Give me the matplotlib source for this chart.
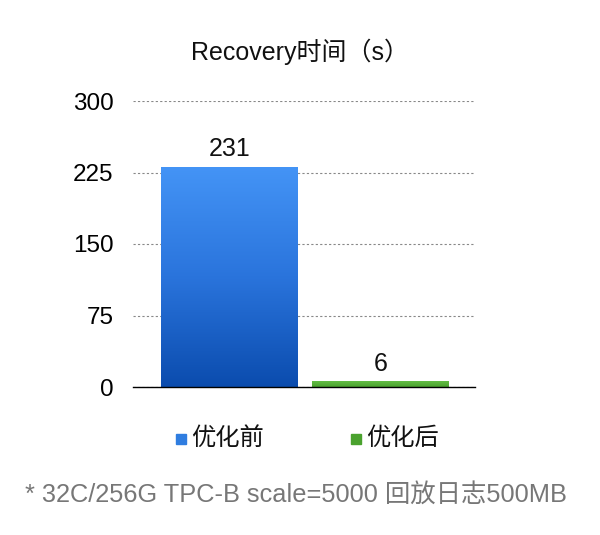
import numpy as np
import matplotlib
matplotlib.use("Agg")
import matplotlib.pyplot as plt
from matplotlib.colors import LinearSegmentedColormap

plt.rcParams['font.family'] = ['Liberation Sans', 'Noto Sans CJK SC', 'DejaVu Sans']

categories = ["优化前", "优化后"]
values = [231, 6]
yticks = [0, 75, 150, 225, 300]
title = "Recovery时间（s）"
footnote = "* 32C/256G TPC-B scale=5000 回放日志500MB"

W, H = 600, 535
fig = plt.figure(figsize=(W / 100, H / 100), dpi=100)
ax = fig.add_axes([133 / W, 1 - 387 / H, (475 - 133) / W, (387 - 101) / H])

x = np.arange(len(categories))
bars = ax.bar(x, values, width=0.907, color=["#2f7de0", "#5ab53c"], zorder=2)
ax.set_xlim(-0.64, 1.625)
ax.set_ylim(0, 300)

grads = [
    LinearSegmentedColormap.from_list("b", ["#0b4cae", "#2a74dc", "#4494f6"]),
    LinearSegmentedColormap.from_list("g", ["#4aa22e", "#62bd44"]),
]
grad = np.linspace(0, 1, 256).reshape(-1, 1)
for i, (b, cm) in enumerate(zip(bars, grads)):
    x0, y0 = b.get_x(), b.get_y()
    w, h = b.get_width(), b.get_height()
    im = ax.imshow(grad, cmap=cm, aspect="auto", origin="lower",
                   extent=[x0, x0 + w, y0, y0 + h], zorder=3)
    im.set_clip_path(b)
    ax.text(x0 + w / 2, h + 6, str(values[i]),
            ha="center", va="bottom", fontsize=18, color="#111111")

ax.set_yticks(yticks)
ax.set_yticklabels([str(t) for t in yticks], fontsize=17.5)
ax.tick_params(axis="y", length=0, pad=14)
ax.set_xticks([])
ax.yaxis.grid(True, linestyle=(0, (2, 2)), color="#888888", linewidth=0.8, zorder=0)
for s in ["top", "right", "left"]:
    ax.spines[s].set_visible(False)
ax.spines["bottom"].set_color("#000000")
ax.spines["bottom"].set_linewidth(1.0)
ax.spines["bottom"].set_zorder(5)

fig.text(300 / W, 1 - 52 / H, title, ha="center", va="center", fontsize=18, color="#111111")

# legend
leg_colors = ["#2f7de0", "#4aa22e"]
leg_x = [176, 351]
for lx, c, lab in zip(leg_x, leg_colors, categories):
    fig.patches.append(plt.Rectangle((lx / W, 1 - 444 / H), 10 / W, 10 / H,
                                     transform=fig.transFigure, color=c))
    fig.text((lx + 15) / W, 1 - 439 / H, lab, ha="left", va="center",
             fontsize=17.5, color="#111111")

fig.text(25 / W, 1 - 495 / H, footnote, ha="left", va="center",
         fontsize=18.3, color="#777777")

fig.savefig("out.png", dpi=100, facecolor="white")
